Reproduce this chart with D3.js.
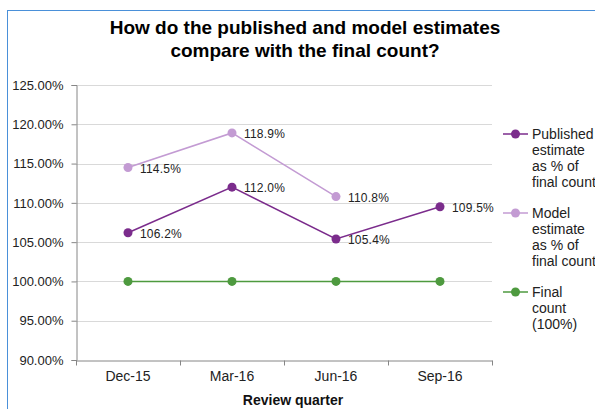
<!DOCTYPE html>
<html>
<head>
<meta charset="utf-8">
<script src="https://cdn.jsdelivr.net/npm/d3@7"></script>
<style>
  body { margin: 0; background: #fff; }
  svg { font-family: "Liberation Sans", Arial, sans-serif; }
</style>
</head>
<body>
<div id="chart"></div>
<script>
// chart data
var categories = ["Dec-15", "Mar-16", "Jun-16", "Sep-16"];
var published = [106.2, 112.0, 105.4, 109.5];
var model = [114.5, 118.9, 110.8, null];
var finalCount = [100, 100, 100, 100];
var yTicks = [90, 95, 100, 105, 110, 115, 120, 125];
var titleLines = ["How do the published and model estimates", "compare with the final count?"];

var series = [
  { name: ["Published", "estimate", "as % of", "final count"], values: published, color: "#7b2c8c", labels: true, legendY: 134 },
  { name: ["Model", "estimate", "as % of", "final count"], values: model, color: "#c39bd3", labels: true, legendY: 213 },
  { name: ["Final", "count", "(100%)"], values: finalCount, color: "#4e9a3f", labels: false, legendY: 292 }
];

var W = 595, H = 409;
var plot = { left: 76, right: 492, top: 85, bottom: 360 };

var svg = d3.select("#chart").append("svg")
  .attr("width", W)
  .attr("height", H);

// outer frame
svg.append("rect")
  .attr("x", 7.5).attr("y", 10.5)
  .attr("width", 620).attr("height", 420)
  .attr("fill", "none")
  .attr("stroke", "#4a90d9")
  .attr("stroke-width", 1);

// title
svg.append("g").selectAll("text")
  .data(titleLines)
  .enter().append("text")
  .attr("x", 305)
  .attr("y", function(d, i) { return 34 + i * 23; })
  .attr("text-anchor", "middle")
  .style("font-size", "19px")
  .style("font-weight", "bold")
  .attr("fill", "#000")
  .text(function(d) { return d; });

var x = d3.scaleBand().domain(categories).range([plot.left, plot.right]).padding(0);
var y = d3.scaleLinear().domain([90, 125]).range([plot.bottom, plot.top]);
var cx = function(i) { return x(categories[i]) + x.bandwidth() / 2; };

// gridlines
svg.append("g").selectAll("line")
  .data(yTicks.filter(function(d) { return d > 90; }))
  .enter().append("line")
  .attr("x1", plot.left).attr("x2", plot.right)
  .attr("y1", function(d) { return Math.round(y(d)) + 0.5; })
  .attr("y2", function(d) { return Math.round(y(d)) + 0.5; })
  .attr("stroke", "#d9d9d9");

// y axis
var yAxis = d3.axisLeft(y)
  .tickValues(yTicks)
  .tickFormat(function(d) { return d.toFixed(2) + "%"; })
  .tickSize(5)
  .tickPadding(8);

var gy = svg.append("g")
  .attr("transform", "translate(" + (plot.left + 0.5) + ",0)")
  .call(yAxis);
gy.select(".domain").attr("stroke", "#868686");
gy.selectAll(".tick line").attr("stroke", "#868686");
gy.selectAll(".tick text")
  .style("font-size", "13px")
  .style("font-family", "Liberation Sans, Arial, sans-serif")
  .attr("fill", "#222");

// x axis (labels only, ticks between categories)
var xAxis = d3.axisBottom(x).tickSize(0).tickPadding(11);
var gx = svg.append("g")
  .attr("transform", "translate(0," + (plot.bottom + 0.5) + ")")
  .call(xAxis);
gx.select(".domain").attr("stroke", "#868686");
gx.selectAll(".tick text")
  .style("font-size", "14px")
  .style("font-family", "Liberation Sans, Arial, sans-serif")
  .attr("fill", "#222");

gx.selectAll(".bound")
  .data(categories.map(function(c) { return x(c); }).concat([plot.right]))
  .enter().append("line")
  .attr("x1", function(d) { return Math.round(d) + 0.5; })
  .attr("x2", function(d) { return Math.round(d) + 0.5; })
  .attr("y1", 0).attr("y2", 5)
  .attr("stroke", "#868686");

svg.append("text")
  .attr("x", 293)
  .attr("y", 405)
  .attr("text-anchor", "middle")
  .style("font-size", "14px")
  .style("font-weight", "bold")
  .attr("fill", "#111")
  .text("Review quarter");

// lines + markers
var line = d3.line()
  .defined(function(d) { return d != null; })
  .x(function(d, i) { return cx(i); })
  .y(function(d) { return y(d); });

series.slice().reverse().forEach(function(s) {
  svg.append("path")
    .datum(s.values)
    .attr("d", line)
    .attr("fill", "none")
    .attr("stroke", s.color)
    .attr("stroke-width", 1.5);

  var pts = s.values.map(function(v, i) { return { v: v, i: i }; })
    .filter(function(d) { return d.v != null; });

  svg.append("g").selectAll("circle")
    .data(pts)
    .enter().append("circle")
    .attr("cx", function(d) { return cx(d.i); })
    .attr("cy", function(d) { return y(d.v); })
    .attr("r", 4.5)
    .attr("fill", s.color);

  if (s.labels) {
    svg.append("g").selectAll("text")
      .data(pts)
      .enter().append("text")
      .attr("x", function(d) { return cx(d.i) + 12; })
      .attr("y", function(d) { return y(d.v) + 5; })
      .style("font-size", "12px")
      .style("letter-spacing", "0.2px")
      .attr("fill", "#222")
      .text(function(d) { return d.v.toFixed(1) + "%"; });
  }
});

// legend
var legend = svg.append("g");
series.forEach(function(s) {
  var g = legend.append("g").attr("transform", "translate(0," + s.legendY + ")");
  g.append("line")
    .attr("x1", 503).attr("x2", 528)
    .attr("y1", 0).attr("y2", 0)
    .attr("stroke", s.color).attr("stroke-width", 1.5);
  g.append("circle")
    .attr("cx", 515.5).attr("cy", 0).attr("r", 4.5)
    .attr("fill", s.color);
  g.selectAll("text")
    .data(s.name)
    .enter().append("text")
    .attr("x", 532)
    .attr("y", function(d, i) { return 5 + i * 16; })
    .style("font-size", "14px")
    .attr("fill", "#222")
    .text(function(d) { return d; });
});
</script>
</body>
</html>
